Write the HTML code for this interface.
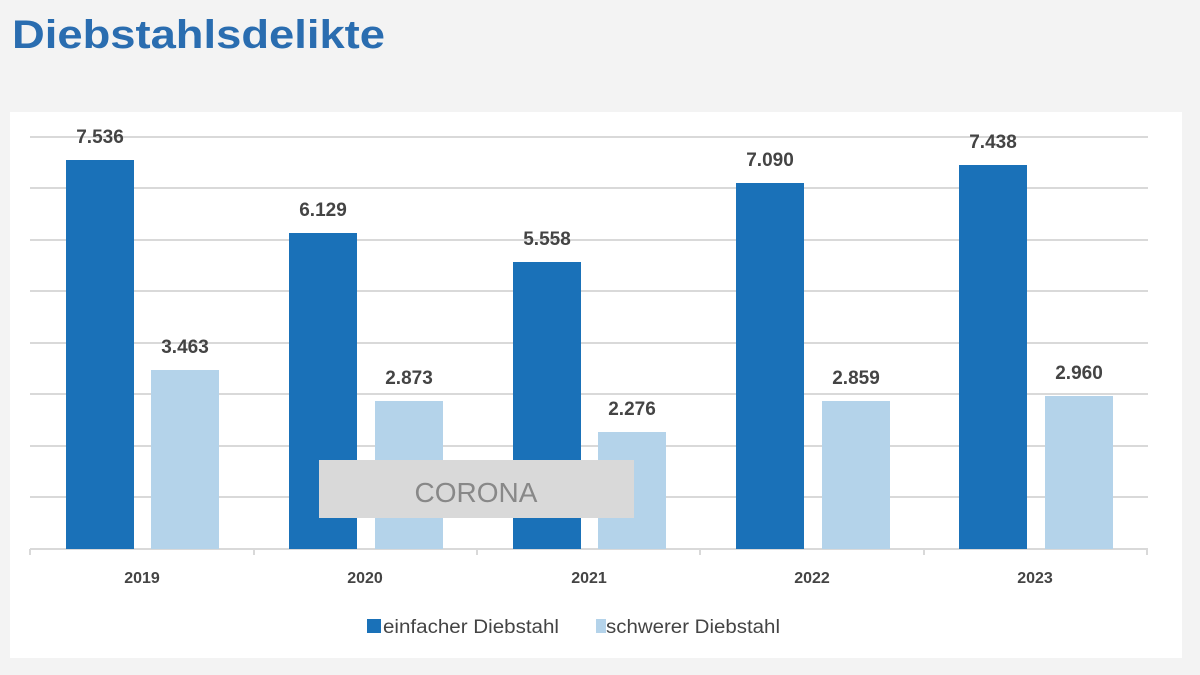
<!DOCTYPE html>
<html><head><meta charset="utf-8"><style>
html,body{margin:0;padding:0;background:#f3f3f3;width:1200px;height:675px;overflow:hidden}
</style></head><body>
<svg width="1200" height="675" xmlns="http://www.w3.org/2000/svg" font-family="Liberation Sans, sans-serif">
<rect width="1200" height="675" fill="#f3f3f3"/>
<text x="12" y="48" font-size="40" font-weight="bold" fill="#2a6db0" textLength="373" lengthAdjust="spacingAndGlyphs">Diebstahlsdelikte</text>
<rect x="10" y="112" width="1172" height="546" fill="#ffffff"/>
<g stroke="#d9d9d9" stroke-width="2">
<line x1="30" x2="1148" y1="137" y2="137"/>
<line x1="30" x2="1148" y1="188" y2="188"/>
<line x1="30" x2="1148" y1="240" y2="240"/>
<line x1="30" x2="1148" y1="291" y2="291"/>
<line x1="30" x2="1148" y1="343" y2="343"/>
<line x1="30" x2="1148" y1="394" y2="394"/>
<line x1="30" x2="1148" y1="446" y2="446"/>
<line x1="30" x2="1148" y1="497" y2="497"/>
<line x1="30" x2="1148" y1="549" y2="549"/>
<line x1="30" x2="30" y1="549" y2="555"/>
<line x1="254" x2="254" y1="549" y2="555"/>
<line x1="477" x2="477" y1="549" y2="555"/>
<line x1="700" x2="700" y1="549" y2="555"/>
<line x1="924" x2="924" y1="549" y2="555"/>
<line x1="1147" x2="1147" y1="549" y2="555"/>
</g>
<g fill="#1a71b8">
<rect x="66" y="160" width="68" height="389"/>
<rect x="289" y="233" width="68" height="316"/>
<rect x="513" y="262" width="68" height="287"/>
<rect x="736" y="183" width="68" height="366"/>
<rect x="959" y="165" width="68" height="384"/>
</g>
<g fill="#b4d3ea">
<rect x="151" y="370" width="68" height="179"/>
<rect x="375" y="401" width="68" height="148"/>
<rect x="598" y="432" width="68" height="117"/>
<rect x="822" y="401" width="68" height="148"/>
<rect x="1045" y="396" width="68" height="153"/>
</g>
<g font-size="19" font-weight="bold" fill="#444" text-anchor="middle">
<text x="100" y="143">7.536</text>
<text x="323" y="216">6.129</text>
<text x="547" y="245">5.558</text>
<text x="770" y="166">7.090</text>
<text x="993" y="148">7.438</text>
<text x="185" y="353">3.463</text>
<text x="409" y="384">2.873</text>
<text x="632" y="415">2.276</text>
<text x="856" y="384">2.859</text>
<text x="1079" y="379">2.960</text>
</g>
<rect x="319" y="460" width="315" height="58" fill="#d9d9d9"/>
<text x="476" y="502" font-size="28" fill="#888" text-anchor="middle">CORONA</text>
<g font-size="16" font-weight="bold" fill="#444" text-anchor="middle">
<text x="142" y="583">2019</text>
<text x="365" y="583">2020</text>
<text x="589" y="583">2021</text>
<text x="812" y="583">2022</text>
<text x="1035" y="583">2023</text>
</g>
<rect x="367" y="619" width="14" height="14" fill="#1a71b8"/>
<text x="383" y="633" font-size="19" fill="#444" textLength="176" lengthAdjust="spacingAndGlyphs">einfacher Diebstahl</text>
<rect x="596" y="619" width="10" height="14" fill="#b4d3ea"/>
<text x="606" y="633" font-size="19" fill="#444" textLength="174" lengthAdjust="spacingAndGlyphs">schwerer Diebstahl</text>
</svg>
</body></html>
